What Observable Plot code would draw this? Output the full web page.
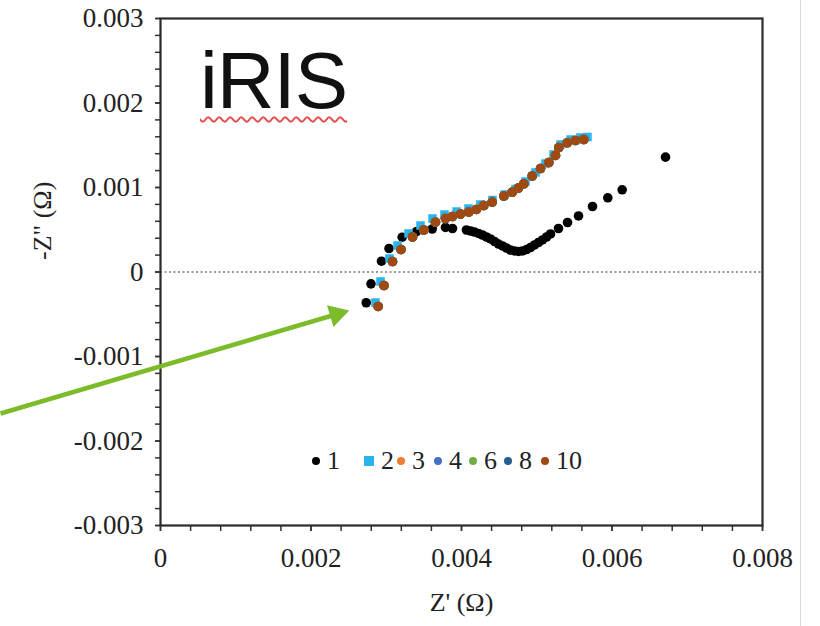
<!DOCTYPE html>
<html><head><meta charset="utf-8">
<script src="https://cdn.jsdelivr.net/npm/d3@7"></script>
<script src="https://cdn.jsdelivr.net/npm/@observablehq/plot@0.6"></script>
<style>
body{margin:0;background:#fff;}
#wrap{position:relative;width:820px;height:626px;overflow:hidden;background:#fff;}
#title{position:absolute;left:200px;top:41px;font-family:"Liberation Sans",Arial,sans-serif;font-size:80px;line-height:1;color:#111;
 text-decoration:underline wavy #e84a4a;text-decoration-thickness:2px;text-underline-offset:8px;letter-spacing:-1px;}
.leg{position:absolute;top:447px;height:28px;font-family:"Liberation Serif","Times New Roman",serif;font-size:26px;color:#222;line-height:28px;white-space:nowrap;}
.leg i{display:inline-block;vertical-align:middle;margin-right:7px;position:relative;top:-2px;}
#edge{position:absolute;left:800px;top:0;width:1px;height:626px;background:#d8d8d8;}
</style></head>
<body><div id="wrap"><div id="chart"></div><div id="title">iRIS</div><div id="legendBox"></div><div id="edge"></div></div>
<script>
// Series 1 (black circles): Z' and -Z''
const zr1 = [0.002734,0.002797,0.002937,0.003037,0.003212,0.003402,0.003611,0.003787,0.003880,0.004066,0.004120,0.004173,0.004226,0.004279,0.004332,0.004385,0.004439,0.004492,0.004545,0.004598,0.004651,0.004704,0.004757,0.004811,0.004864,0.004917,0.004970,0.005023,0.005076,0.005130,0.005183,0.005289,0.005409,0.005555,0.005741,0.005944,0.006135,0.006711];
const zi1 = [-0.000364,-0.000140,0.000128,0.000278,0.000412,0.000479,0.000509,0.000527,0.000515,0.000497,0.000485,0.000473,0.000456,0.000438,0.000414,0.000391,0.000361,0.000331,0.000308,0.000284,0.000260,0.000249,0.000243,0.000249,0.000266,0.000290,0.000320,0.000349,0.000379,0.000414,0.000450,0.000515,0.000586,0.000663,0.000775,0.000878,0.000973,0.001359];
// Series 2 (light blue squares)
const zr2 = [0.002857,0.002924,0.003043,0.003150,0.003296,0.003455,0.003615,0.003774,0.003934,0.004093,0.004252,0.004412,0.004571,0.004718,0.004850,0.004983,0.005116,0.005223,0.005316,0.005449,0.005581,0.005674];
const zi2 = [-0.000361,-0.000112,0.000160,0.000314,0.000456,0.000550,0.000633,0.000680,0.000716,0.000751,0.000799,0.000852,0.000917,0.000982,0.001071,0.001178,0.001284,0.001391,0.001509,0.001568,0.001592,0.001598];
// Series 3, 4, 6, 8, 10 coincide in the picture (10 drawn on top)
const zrCycles = [0.002893,0.002970,0.003083,0.003196,0.003349,0.003499,0.003654,0.003787,0.003880,0.003987,0.004097,0.004199,0.004296,0.004408,0.004562,0.004674,0.004757,0.004828,0.004940,0.005050,0.005160,0.005249,0.005293,0.005405,0.005515,0.005625];
const ziCycles = [-0.000408,-0.000160,0.000124,0.000266,0.000414,0.000497,0.000589,0.000633,0.000657,0.000686,0.000710,0.000740,0.000787,0.000828,0.000899,0.000944,0.000994,0.001044,0.001136,0.001225,0.001296,0.001379,0.001473,0.001529,0.001556,0.001568];

const seriesNames = ["1","2","3","4","6","8","10"];
const seriesColors = ["#000000","#2bb4ec","#ed7d31","#4472c4","#70ad47","#255e91","#a04a12"];
const seriesSymbols = ["circle","square","circle","circle","circle","circle","circle"];
const seriesZr = [zr1, zr2, zrCycles, zrCycles, zrCycles, zrCycles, zrCycles];
const seriesZi = [zi1, zi2, ziCycles, ziCycles, ziCycles, ziCycles, ziCycles];

const xTicks = [0,0.002,0.004,0.006,0.008];
const xTickLabels = ["0","0.002","0.004","0.006","0.008"];
const yTicks = [-0.003,-0.002,-0.001,0,0.001,0.002,0.003];
const yTickLabels = ["-0.003","-0.002","-0.001","0","0.001","0.002","0.003"];
const xMinor = d3.range(0, 0.00801, 0.0004);
const yMinor = d3.range(-0.003, 0.00301, 0.0002);

// annotation arrow (data units)
const arrowStart = {x:-0.002126, y:-0.001675};
const arrowHead = {x:0.002340, y:-0.000500};

const rows = seriesNames.flatMap((s, k) => seriesZr[k].map((x, i) => ({s, x, y: seriesZi[k][i]})));

const dotMarks = seriesNames.map((s, k) => Plot.dot(rows.filter(d => d.s === s), {
  x: "x", y: "y", fill: seriesColors[k], symbol: seriesSymbols[k], r: 4.8
}));

const serif = '"Liberation Serif","Times New Roman",serif';
const chart = Plot.plot({
  width: 820, height: 626,
  marginLeft: 160, marginRight: 58, marginTop: 18, marginBottom: 101,
  x: {domain: [0, 0.008]},
  y: {domain: [-0.003, 0.003]},
  style: {fontFamily: serif, fontSize: "27px", color: "#222", background: "transparent", overflow: "visible"},
  marks: [
    Plot.ruleY([0], {stroke: "#9a9a9a", strokeWidth: 2, strokeDasharray: "2,2.5"}),
    ...dotMarks,
    Plot.axisX({ticks: xMinor, tickSize: 6, text: null, stroke: "#333", strokeWidth: 1.5}),
    Plot.axisX({ticks: xTicks, tickSize: 6, tickPadding: 16, fontSize: 27, tickFormat: (d, i) => xTickLabels[xTicks.indexOf(d)], label: null, stroke: "#333", strokeWidth: 1.5}),
    Plot.axisY({ticks: yMinor, tickSize: 5, text: null, stroke: "#333", strokeWidth: 1.5}),
    Plot.axisY({ticks: yTicks, tickSize: 5, tickPadding: 12, fontSize: 27, tickFormat: d => yTickLabels[yTicks.findIndex(v => Math.abs(v - d) < 1e-9)], label: null, stroke: "#333", strokeWidth: 1.5}),
    Plot.frame({stroke: "#2a2a2a", strokeWidth: 2.2}),
    Plot.text(["Z' (Ω)"], {frameAnchor: "bottom", dy: 85, text: d => d, fontSize: 26, fill: "#222"}),
    Plot.text(['-Z" (Ω)'], {frameAnchor: "left", dx: -118, dy: -12, rotate: -90, text: d => d, fontSize: 26, fill: "#222"}),
    Plot.link([{...arrowStart, x2: arrowHead.x, y2: arrowHead.y}], {x1: "x", y1: "y", x2: "x2", y2: "y2", stroke: "#7cbb2a", strokeWidth: 4.5}),
    Plot.dot([arrowHead], {x: "x", y: "y", symbol: "triangle", r: 8.5, fill: "#7cbb2a", rotate: 73.5})
  ]
});
document.getElementById("chart").append(chart);

// legend
const legendLeft = [312, 364, 397, 434, 469, 504, 541];
const box = document.getElementById("legendBox");
seriesNames.forEach((s, k) => {
  const el = document.createElement("div");
  el.className = "leg";
  el.style.left = legendLeft[k] + "px";
  const sw = document.createElement("i");
  const sq = seriesSymbols[k] === "square";
  sw.style.width = (sq ? 10 : 8) + "px";
  sw.style.height = (sq ? 10 : 8) + "px";
  sw.style.borderRadius = sq ? "0" : "50%";
  sw.style.background = seriesColors[k];
  el.append(sw, document.createTextNode(s));
  box.append(el);
});
</script></body></html>
